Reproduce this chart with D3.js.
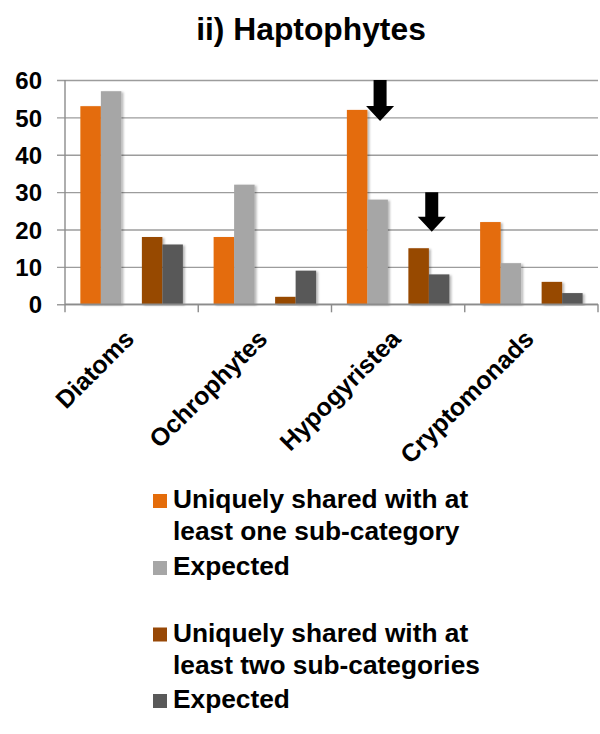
<!DOCTYPE html>
<html>
<head>
<meta charset="utf-8">
<script src="https://cdn.jsdelivr.net/npm/d3@7/dist/d3.min.js"></script>
<style>
  html, body { margin: 0; padding: 0; background: #fff; }
  svg { display: block; font-family: "Liberation Sans", Arial, sans-serif; font-weight: bold; }
</style>
</head>
<body>
<svg id="chart" width="600" height="734"></svg>
<script>
// Groups along the x axis
const categories = ["Diatoms", "Ochrophytes", "Hypogyristea", "Cryptomonads"];

// Observed vs expected counts for each sharing level
const sharedOne     = [53, 18, 52, 22];
const expectedOne   = [57, 32, 28, 11];
const sharedTwo     = [18, 2, 15, 6];
const expectedTwo   = [16, 9, 8, 3];

const yTicks = [0, 10, 20, 30, 40, 50, 60];

// Series keys, in slot order within a group ("gap" is an empty slot)
const seriesKeys   = ["sharedOne", "expectedOne", "gap", "sharedTwo", "expectedTwo"];
const seriesValues = { sharedOne, expectedOne, sharedTwo, expectedTwo };
const seriesColors = {
  sharedOne: "#E46C0A",
  expectedOne: "#A6A6A6",
  sharedTwo: "#974806",
  expectedTwo: "#595959"
};

// Legend entries (lines of text per entry)
const legendItems = [
  { key: "sharedOne",   lines: ["Uniquely shared with at", "least one sub-category"] },
  { key: "expectedOne", lines: ["Expected"] },
  { key: "sharedTwo",   lines: ["Uniquely shared with at", "least two sub-categories"] },
  { key: "expectedTwo", lines: ["Expected"] }
];

// Arrows marking notable groups: anchored to a bar slot, spanning value range
const arrows = [
  { category: "Hypogyristea", key: "expectedOne", offset: 0.62, top: 60, tip: 49 },
  { category: "Hypogyristea", key: "sharedTwo",   offset: 1.14, top: 30, tip: 19.4 }
];

const svg = d3.select("#chart");

const plot = { left: 65, right: 598, top: 80, bottom: 304.3 };

const x = d3.scaleBand().domain(categories).range([plot.left, plot.right]).padding(0);
const xInner = d3.scaleBand().domain(seriesKeys).range([0, x.bandwidth()])
  .paddingInner(0).paddingOuter(0.75);
const y = d3.scaleLinear().domain([0, 60]).range([plot.bottom, plot.top]);

const defs = svg.append("defs");
defs.append("filter").attr("id", "barShadow")
  .attr("x", "-20%").attr("y", "-5%").attr("width", "150%").attr("height", "115%")
  .append("feDropShadow")
  .attr("dx", 2).attr("dy", 1).attr("stdDeviation", 1.3)
  .attr("flood-color", "#000").attr("flood-opacity", 0.28);

// Title
svg.append("text")
  .attr("x", 311).attr("y", 40)
  .attr("text-anchor", "middle")
  .attr("font-size", 31.8)
  .attr("fill", "#000")
  .text("ii) Haptophytes");

// Horizontal gridlines with tick stubs on the left
const yAxis = d3.axisLeft(y).tickValues(yTicks)
  .tickSize(-(plot.right - plot.left))
  .tickFormat(d3.format("d"));

const gy = svg.append("g")
  .attr("transform", `translate(${plot.left},0)`)
  .call(yAxis);
gy.select(".domain").remove();
gy.selectAll(".tick line")
  .attr("x1", -8)
  .attr("stroke", "#9c9c9c")
  .attr("stroke-width", 1.4);
gy.selectAll(".tick text")
  .attr("x", -23)
  .attr("dy", "0.36em")
  .attr("font-size", 24)
  .attr("font-family", "'Liberation Sans', Arial, sans-serif")
  .attr("font-weight", "bold")
  .attr("fill", "#000");

// Vertical axis line
svg.append("line")
  .attr("x1", plot.left).attr("x2", plot.left)
  .attr("y1", y(60)).attr("y2", y(0))
  .attr("stroke", "#8c8c8c").attr("stroke-width", 1.4);

// Bars
const groups = svg.append("g").selectAll("g")
  .data(categories)
  .join("g")
  .attr("transform", d => `translate(${x(d)},0)`);

groups.selectAll("rect")
  .data((cat, i) => seriesKeys.filter(k => k !== "gap").map(k => ({ key: k, value: seriesValues[k][i] })))
  .join("rect")
  .attr("x", d => xInner(d.key))
  .attr("width", xInner.bandwidth())
  .attr("y", d => y(d.value))
  .attr("height", d => y(0) - y(d.value))
  .attr("fill", d => seriesColors[d.key])
  .attr("filter", "url(#barShadow)");

// Category axis with ticks at group boundaries
const gx = svg.append("g");
gx.append("line")
  .attr("x1", plot.left).attr("x2", plot.right)
  .attr("y1", y(0)).attr("y2", y(0))
  .attr("stroke", "#8c8c8c").attr("stroke-width", 1.4);
const boundaries = categories.map(c => x(c)).concat([x(categories[categories.length - 1]) + x.bandwidth()]);
gx.selectAll("line.bound")
  .data(boundaries)
  .join("line")
  .attr("class", "bound")
  .attr("x1", d => d).attr("x2", d => d)
  .attr("y1", y(0)).attr("y2", y(0) + 8)
  .attr("stroke", "#8c8c8c").attr("stroke-width", 1.4);

gx.selectAll("text")
  .data(categories)
  .join("text")
  .attr("transform", d => `translate(${x(d) + x.bandwidth() / 2 + 4},${y(0) + 36}) rotate(-45)`)
  .attr("text-anchor", "end")
  .attr("font-size", 25)
  .attr("fill", "#000")
  .text(d => d);

// Down arrows
const arrowShape = (cx, yTop, yTip) => {
  const shaftHalf = 6.5, headHalf = 14, headLen = 15;
  const yHead = yTip - headLen;
  return [
    [cx - shaftHalf, yTop], [cx + shaftHalf, yTop], [cx + shaftHalf, yHead],
    [cx + headHalf, yHead], [cx, yTip], [cx - headHalf, yHead], [cx - shaftHalf, yHead]
  ];
};
svg.append("g").selectAll("path")
  .data(arrows)
  .join("path")
  .attr("d", a => {
    const cx = x(a.category) + xInner(a.key) + a.offset * xInner.bandwidth();
    return d3.line()(arrowShape(cx, y(a.top), y(a.tip))) + "Z";
  })
  .attr("fill", "#000");

// Legend
const legendBaselines = [[508, 540], [575], [641.5, 673.5], [708]];
const legend = svg.append("g");
legendItems.forEach((item, i) => {
  const base = legendBaselines[i];
  legend.append("rect")
    .attr("x", 153).attr("y", base[0] - 14)
    .attr("width", 14).attr("height", 14)
    .attr("fill", seriesColors[item.key]);
  item.lines.forEach((line, j) => {
    legend.append("text")
      .attr("x", 173).attr("y", base[j])
      .attr("font-size", 26.3)
      .attr("fill", "#000")
      .text(line);
  });
});
</script>
</body>
</html>
